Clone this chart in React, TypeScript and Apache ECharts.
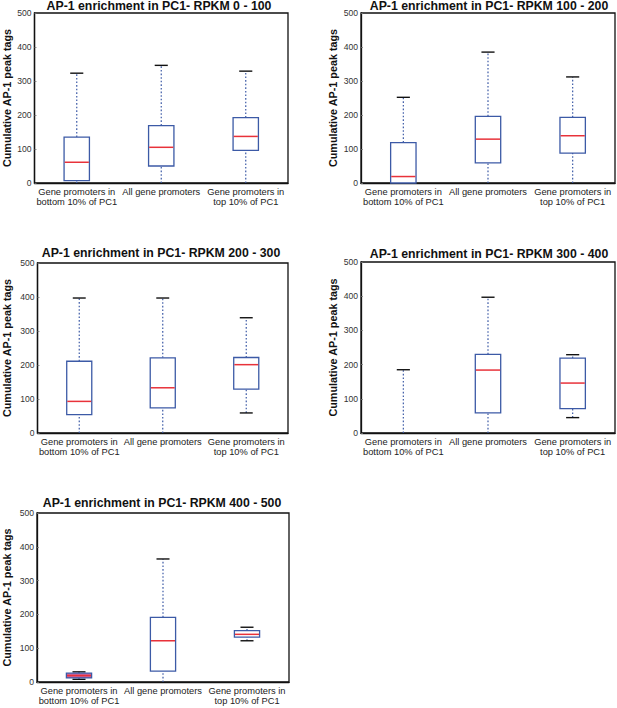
import React, { useEffect, useRef } from "react";
import * as echarts from "echarts";

// Category labels (x axis)
const categories = [
  "Gene promoters in\nbottom 10% of PC1",
  "All gene promoters",
  "Gene promoters in\ntop 10% of PC1",
];

// Panel titles
const panelTitles = [
  "AP-1 enrichment in PC1- RPKM 0 - 100",
  "AP-1 enrichment in PC1- RPKM 100 - 200",
  "AP-1 enrichment in PC1- RPKM 200 - 300",
  "AP-1 enrichment in PC1- RPKM 300 - 400",
  "AP-1 enrichment in PC1- RPKM 400 - 500",
];

const yAxisName = "Cumulative AP-1 peak tags";

// Box statistics per category: [min, Q1, median, Q3, max]
const rpkm0to100 = [
  [0, 7, 61, 135, 323],
  [0, 50, 105, 169, 346],
  [0, 96, 137, 192, 329],
];
const rpkm100to200 = [
  [0, 0, 19, 119, 252],
  [0, 59, 129, 196, 385],
  [0, 88, 139, 193, 312],
];
const rpkm200to300 = [
  [0, 54, 93, 211, 397],
  [0, 74, 133, 221, 397],
  [59, 129, 201, 222, 339],
];
const rpkm300to400 = [
  [0, 0, 0, 0, 185],
  [0, 59, 184, 230, 397],
  [45, 71, 146, 219, 229],
];
const rpkm400to500 = [
  [8, 12, 19, 26, 30],
  [0, 32, 122, 191, 364],
  [122, 133, 141, 152, 162],
];

const panelData = [rpkm0to100, rpkm100to200, rpkm200to300, rpkm300to400, rpkm400to500];

const Y_MIN = 0;
const Y_MAX = 500;
const Y_STEP = 100;

// Layout (pixels)
const grids = [
  { left: 33, top: 13, width: 255, height: 170, nameGap: 22.5, titleX: 159, titleY: 0 },
  { left: 361, top: 13, width: 254, height: 170, nameGap: 22.5, titleX: 489, titleY: 0 },
  { left: 36, top: 263, width: 252, height: 170, nameGap: 25.5, titleX: 161, titleY: 246.5 },
  { left: 361, top: 262, width: 254, height: 171, nameGap: 22.5, titleX: 489, titleY: 247.5 },
  { left: 35, top: 513, width: 254, height: 169, nameGap: 25, titleX: 162, titleY: 496.5 },
];

const FONT = "'Liberation Sans', Arial, Helvetica, sans-serif";
const BLUE = "#3c5aa6";
const RED = "#e8323a";
const BLACK = "#111111";

function renderBox(params: any, api: any) {
  const x = api.value(0);
  const mn = api.value(1);
  const q1 = api.value(2);
  const med = api.value(3);
  const q3 = api.value(4);
  const mx = api.value(5);
  const band = api.size([1, 0])[0];
  const cx = api.coord([x, 0])[0];
  const y = (v: number) => api.coord([x, v])[1];
  const boxW = band * 0.3;
  const capW = band * 0.155;
  const children: any[] = [];
  const dash = { stroke: BLUE, lineWidth: 1.2, lineDash: [1.6, 2] };
  // whiskers
  if (mx > q3) {
    children.push({ type: "line", shape: { x1: cx, y1: y(q3), x2: cx, y2: y(mx) }, style: dash });
    children.push({
      type: "line",
      shape: { x1: cx - capW / 2, y1: y(mx), x2: cx + capW / 2, y2: y(mx) },
      style: { stroke: BLACK, lineWidth: 1.4 },
    });
  }
  if (q1 > mn) {
    children.push({ type: "line", shape: { x1: cx, y1: y(mn), x2: cx, y2: y(q1) }, style: dash });
    if (mn > Y_MIN) {
      children.push({
        type: "line",
        shape: { x1: cx - capW / 2, y1: y(mn), x2: cx + capW / 2, y2: y(mn) },
        style: { stroke: BLACK, lineWidth: 1.4 },
      });
    }
  }
  if (q3 > q1) {
    const h = y(q1) - y(q3);
    const tiny = h < 6;
    children.push({
      type: "rect",
      shape: { x: cx - boxW / 2, y: y(q3), width: boxW, height: h },
      style: { fill: tiny ? "#c8649e" : "#ffffff", stroke: BLUE, lineWidth: 1.3 },
    });
    children.push({
      type: "line",
      shape: { x1: cx - boxW / 2 + 0.6, y1: y(med), x2: cx + boxW / 2 - 0.6, y2: y(med) },
      style: { stroke: RED, lineWidth: 1.5 },
    });
  }
  return { type: "group", children };
}

export default function App() {
  const ref = useRef<HTMLDivElement>(null);
  useEffect(() => {
    document.body.style.margin = "0";
    if (!ref.current) return;
    const chart = echarts.init(ref.current, null, { renderer: "svg" });
    const option: any = {
      animation: false,
      backgroundColor: "#ffffff",
      title: grids.map((g, i) => ({
        text: panelTitles[i],
        left: g.titleX,
        top: g.titleY,
        textAlign: "center",
        padding: 0,
        textStyle: { fontFamily: FONT, fontSize: 12.3, fontWeight: "bold", color: BLACK },
      })),
      grid: grids.map((g) => ({
        left: g.left,
        top: g.top,
        width: g.width,
        height: g.height,
        show: true,
        borderColor: BLACK,
        borderWidth: 1.3,
        backgroundColor: "transparent",
        containLabel: false,
      })),
      xAxis: grids.map((g, i) => ({
        type: "category",
        gridIndex: i,
        data: categories,
        axisLine: { show: true, lineStyle: { color: BLACK, width: 1.3 } },
        axisTick: { show: false },
        splitLine: { show: false },
        axisLabel: {
          interval: 0,
          fontFamily: FONT,
          fontSize: 9.3,
          lineHeight: 10,
          color: "#222",
          margin: 4,
        },
      })),
      yAxis: grids.map((g, i) => ({
        type: "value",
        gridIndex: i,
        min: Y_MIN,
        max: Y_MAX,
        interval: Y_STEP,
        name: yAxisName,
        nameLocation: "middle",
        nameGap: g.nameGap,
        nameTextStyle: { fontFamily: FONT, fontSize: 10.8, fontWeight: "bold", color: BLACK },
        axisLine: { show: true, lineStyle: { color: BLACK, width: 1.3 } },
        axisTick: { show: true, inside: true, length: 2, lineStyle: { color: "#777", width: 0.8 } },
        splitLine: { show: false },
        axisLabel: { fontFamily: FONT, fontSize: 8.6, color: "#333", margin: 3 },
      })),
      series: panelData.map((rows, i) => ({
        type: "custom",
        xAxisIndex: i,
        yAxisIndex: i,
        renderItem: renderBox,
        encode: { x: 0, y: [1, 2, 3, 4, 5] },
        data: rows.map((r, k) => [k, ...r]),
        z: 3,
      })),
    };
    chart.setOption(option);
    return () => chart.dispose();
  }, []);
  return <div ref={ref} style={{ width: 617, height: 708 }} />;
}
